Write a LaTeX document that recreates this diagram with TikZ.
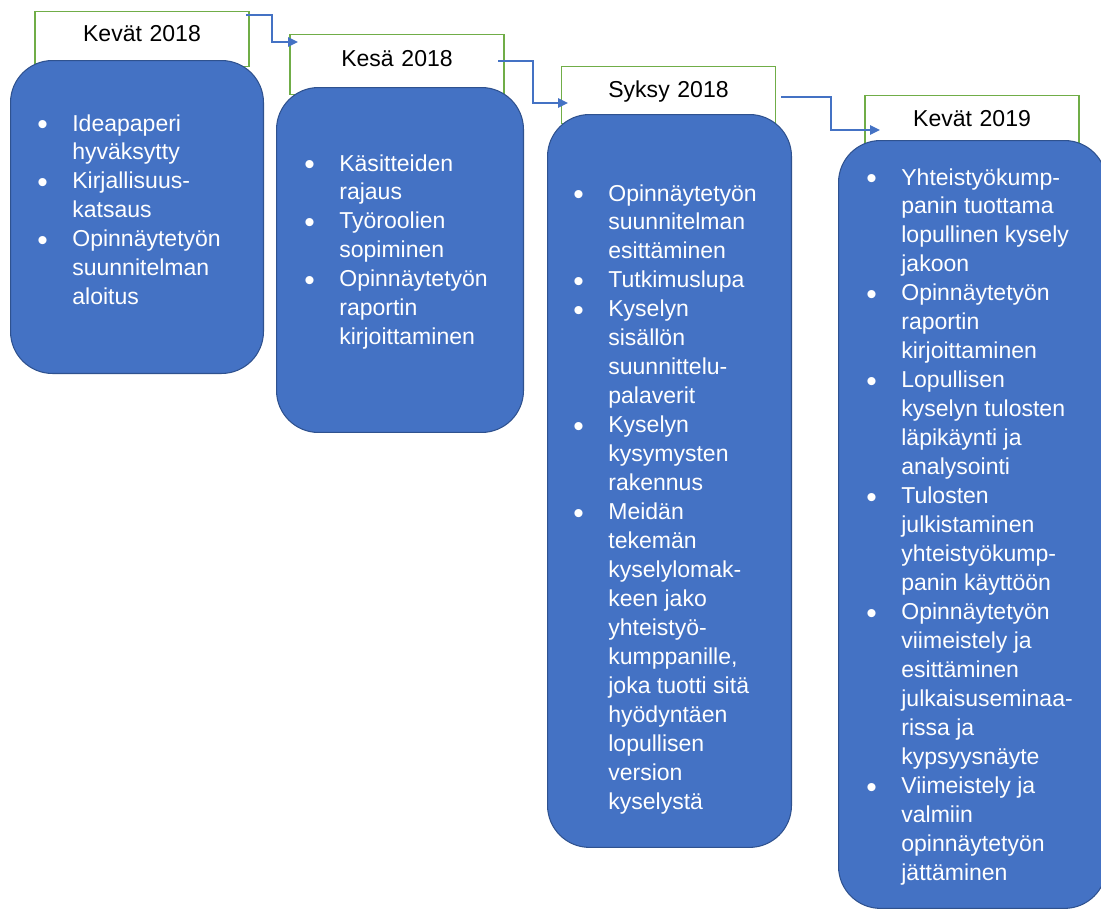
\documentclass[tikz,border=0pt]{standalone}
\usepackage{fontspec}
\setmainfont{Liberation Sans}
\usetikzlibrary{arrows.meta}
\definecolor{phaseblue}{HTML}{4472C4}
\definecolor{phaseedge}{HTML}{2F528F}
\definecolor{seasongreen}{HTML}{70AD47}
\newcommand{\dotitem}{\raisebox{-0.15em}{\scalebox{1.3}{\textbullet}}}
\begin{document}
\begin{tikzpicture}[x=0.02cm,y=-0.02cm,
  season/.style={draw=seasongreen,fill=white,line width=0.8pt,inner sep=0pt,anchor=north,text width=4.28cm,align=center,font=\fontsize{13.1}{16.5}\selectfont},
  phase/.style={draw=phaseedge,fill=phaseblue,line width=0.6pt,rounded corners=0.84cm,anchor=north west},
  items/.style={anchor=base west,inner sep=0pt,text=white,font=\fontsize{13.1}{16.5}\selectfont},
  link/.style={draw=phaseblue,line width=0.8pt,-{Triangle[length=0.2cm,width=0.19cm]}}]
    \useasboundingbox (0,0) rectangle (1101,910);
    \clip (0,0) rectangle (1101,910);
    % season headers
    \node[season,text height=0.6cm,text depth=0.5cm] (h1) at (142,11) {Kevät 2018};
    \node[season,text height=0.64cm,text depth=0.56cm] (h2) at (397,34) {Kesä 2018};
    \node[season,text height=0.62cm,text depth=0.52cm] (h3) at (668.5,66) {Syksy 2018};
    \node[season,text height=0.62cm,text depth=0.38cm] (h4) at (972,95) {Kevät 2019};
    % elbow arrows
    \coordinate (a1s) at (246,15);
    \coordinate (a1e) at (298,42);
    \coordinate (a2s) at (498,61);
    \coordinate (a2e) at (568,103);
    \coordinate (a3s) at (781,97);
    \coordinate (a3e) at (880,130);
    \draw[link] (a1s) -- ++(26,0) |- (a1e);
    \draw[link] (a2s) -- ++(35,0) |- (a2e);
    \draw[link] (a3s) -- ++(50,0) |- (a3e);
    % phase boxes
    \node[phase,minimum width=5.06cm,minimum height=6.26cm] (p1) at (10,60) {};
    \node[phase,minimum width=4.94cm,minimum height=6.9cm] (p2) at (276,87) {};
    \node[phase,minimum width=4.88cm,minimum height=14.66cm] (p3) at (547,114) {};
    \node[phase,minimum width=5.36cm,minimum height=15.36cm] (p4) at (838,140) {};
    % bullet lists
    \node[items] (i1) at (37,131) {\begin{tabular}[t]{@{}p{0.7cm}@{}l@{}}
      \dotitem & Ideapaperi\\ & hyväksytty\\
      \dotitem & Kirjallisuus-\\ & katsaus\\
      \dotitem & Opinnäytetyön\\ & suunnitelman\\ & aloitus
    \end{tabular}};
    \node[items] (i2) at (304,171) {\begin{tabular}[t]{@{}p{0.7cm}@{}l@{}}
      \dotitem & Käsitteiden\\ & rajaus\\
      \dotitem & Työroolien\\ & sopiminen\\
      \dotitem & Opinnäytetyön\\ & raportin\\ & kirjoittaminen
    \end{tabular}};
    \node[items] (i3) at (573,201) {\begin{tabular}[t]{@{}p{0.7cm}@{}l@{}}
      \dotitem & Opinnäytetyön\\ & suunnitelman\\ & esittäminen\\
      \dotitem & Tutkimuslupa\\
      \dotitem & Kyselyn\\ & sisällön\\ & suunnittelu-\\ & palaverit\\
      \dotitem & Kyselyn\\ & kysymysten\\ & rakennus\\
      \dotitem & Meidän\\ & tekemän\\ & kyselylomak-\\ & keen jako\\ & yhteistyö-\\ & kumppanille,\\ & joka tuotti sitä\\ & hyödyntäen\\ & lopullisen\\ & version\\ & kyselystä
    \end{tabular}};
    \node[items] (i4) at (866,185) {\begin{tabular}[t]{@{}p{0.7cm}@{}l@{}}
      \dotitem & Yhteistyökump-\\ & panin tuottama\\ & lopullinen kysely\\ & jakoon\\
      \dotitem & Opinnäytetyön\\ & raportin\\ & kirjoittaminen\\
      \dotitem & Lopullisen\\ & kyselyn tulosten\\ & läpikäynti ja\\ & analysointi\\
      \dotitem & Tulosten\\ & julkistaminen\\ & yhteistyökump-\\ & panin käyttöön\\
      \dotitem & Opinnäytetyön\\ & viimeistely ja\\ & esittäminen\\ & julkaisuseminaa-\\ & rissa ja\\ & kypsyysnäyte\\
      \dotitem & Viimeistely ja\\ & valmiin\\ & opinnäytetyön\\ & jättäminen
    \end{tabular}};
\end{tikzpicture}
\end{document}
